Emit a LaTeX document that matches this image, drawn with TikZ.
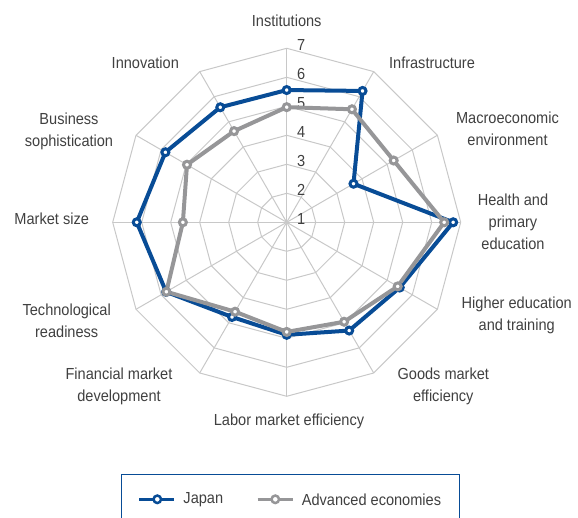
\documentclass[tikz,border=0pt]{standalone}
\usepackage{fontspec}
\setmainfont{Liberation Sans}[FakeStretch=0.91]
\usepackage{tikz}
\usetikzlibrary{positioning}
\definecolor{japanblue}{RGB}{8,76,150}
\definecolor{advgray}{RGB}{150,150,152}
\definecolor{gridgray}{RGB}{200,200,200}
\definecolor{txtgray}{RGB}{64,64,64}
\tikzset{
  gridline/.style={draw=gridgray, line width=1pt},
  axislabel/.style={text=txtgray, font=\fontsize{16}{22}\selectfont, align=center, inner sep=0pt},
  serieline/.style={draw=#1, line width=4pt, line join=round},
  seriemark/.style={circle, draw=#1, fill=white, line width=3pt, minimum size=7pt, inner sep=0pt},
  legmark/.style={circle, draw=#1, fill=white, line width=2.5pt, minimum size=7.5pt, inner sep=0pt}
}

\begin{document}
\begin{tikzpicture}[x=1pt, y=1pt]
    \useasboundingbox (-286.7,-295.7) rectangle (291.3,222.3);
    \clip (-286.7,-295.7) rectangle (291.3,222.3);
    % grid: rings and spokes
    \foreach \l in {1,...,6}
      \draw[gridline] (90:{29*\l}) \foreach \k in {1,...,11}{-- ({90-30*\k}:{29*\l})} -- cycle;
    \foreach \k in {0,...,11}
      \draw[gridline] (0,0) -- ({90-30*\k}:174);
    % scale
    \foreach \l in {1,...,7}
      \node[axislabel] (lev\l) at (14.5,{29*(\l-1)+3}) {\l};
    % axis labels
    \node[axislabel] (inst) at (0,202) {Institutions};
    \node[axislabel] (infra) at (145.3,159.3) {Infrastructure};
    \node[axislabel] (macro) at (220.8,93.3) {Macroeconomic\\environment};
    \node[axislabel] (health) at (226.3,0.3) {Health and\\primary\\education};
    \node[axislabel] (higher) at (230,-92.7) {Higher education\\and training};
    \node[axislabel] (goods) at (156.6,-163.7) {Goods market\\efficiency};
    \node[axislabel] (labor) at (2.3,-198.7) {Labor market efficiency};
    \node[axislabel] (fin) at (-167.7,-163.7) {Financial market\\development};
    \node[axislabel] (tech) at (-220,-98.7) {Technological\\readiness};
    \node[axislabel] (size) at (-235,3.3) {Market size};
    \node[axislabel] (busi) at (-217.7,91.3) {Business\\sophistication};
    \node[axislabel] (innov) at (-141.4,159.3) {Innovation};
    % data points
    \foreach \v [count=\i] in {4.97,5.5,5.26,6.43,5.42,4.96,4.78,4.56,5.79,4.58,4.97,4.63}
      \coordinate (a\i) at ({90-30*(\i-1)}:{29*(\v-1)});
    \foreach \v [count=\i] in {5.56,6.23,3.66,6.74,5.5,5.31,4.88,4.77,5.8,6.17,5.83,5.58}
      \coordinate (j\i) at ({90-30*(\i-1)}:{29*(\v-1)});
    % Japan
    \draw[serieline=japanblue] (j1) \foreach \i in {2,...,12}{-- (j\i)} -- cycle;
    % Advanced economies
    \draw[serieline=advgray] (a1) \foreach \i in {2,...,12}{-- (a\i)} -- cycle;
    \foreach \i in {1,...,12}
      \node[seriemark=japanblue] (jm\i) at (j\i) {};
    \foreach \i in {1,...,12}
      \node[seriemark=advgray] (am\i) at (a\i) {};
    % legend
    \draw[japanblue, line width=1.3pt] (-165,-252) rectangle (172.6,-320);
    \coordinate (lj1) at (-147.4,-277);
    \coordinate (lj2) at (-112.7,-277);
    \coordinate (la1) at (-29,-277);
    \coordinate (la2) at (6,-277);
    \draw[japanblue, line width=2.5pt] (lj1) -- (lj2);
    \node[legmark=japanblue] (ljm) at (-129.4,-277) {};
    \node[axislabel, anchor=west, right=9.3pt of lj2] (ljt) {Japan};
    \draw[advgray, line width=2.5pt] (la1) -- (la2);
    \node[legmark=advgray] (lam) at (-11.4,-277) {};
    \node[axislabel, anchor=west, right=9pt of la2] (lat) {Advanced economies};
\end{tikzpicture}
\end{document}
